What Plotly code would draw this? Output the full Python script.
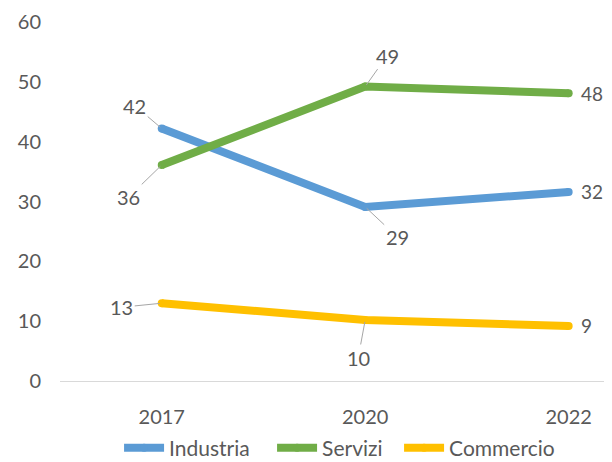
import plotly.graph_objects as go

years = ["2017", "2020", "2022"]
industria = [42.2, 29.1, 31.6]
servizi = [36.1, 49.2, 48.1]
commercio = [13.0, 10.2, 9.2]

series = [
    ("Industria", industria, "#5B9BD5"),
    ("Servizi", servizi, "#70AD47"),
    ("Commercio", commercio, "#FFC000"),
]

# legend entry widths (px) to reproduce the spacing of the original
legend_widths = {"Industria": 98, "Servizi": 72, "Commercio": 130}

# label offsets (pixels) relative to each point; None -> label right of point, no leader
offsets = {
    "Industria": [(-27, -23), (32, 30), None],
    "Servizi": [(-33, 32), (22, -31), None],
    "Commercio": [(-40, 4), (-7, 38), None],
}

FONT = "Lato"
TXT = "#595959"

fig = go.Figure()
xs = list(range(len(years)))
annotations = []
for name, vals, col in series:
    fig.add_trace(go.Scatter(
        x=xs, y=vals, name=name, mode="lines+markers",
        line=dict(color=col, width=8),
        marker=dict(color=col, size=8),
        legendwidth=legend_widths[name],
    ))
    for i, v in enumerate(vals):
        off = offsets[name][i]
        txt = str(int(round(v)))
        if off is None:
            annotations.append(dict(
                x=xs[i], y=v, xref="x", yref="y", text=txt, showarrow=False,
                xanchor="left", xshift=10, font=dict(family=FONT, size=19, color=TXT),
            ))
        else:
            annotations.append(dict(
                x=xs[i], y=v, xref="x", yref="y", text=txt, showarrow=True,
                ax=off[0], ay=off[1], arrowhead=0, arrowwidth=1, arrowcolor="#A6A6A6",
                standoff=2, font=dict(family=FONT, size=20, color=TXT),
            ))

# page body has an 8px margin, so the figure is sized to fill the rest of the window
fig.update_layout(
    width=604, height=454,
    margin=dict(l=52, r=0, t=14, b=81, autoexpand=False),
    paper_bgcolor="white", plot_bgcolor="white",
    font=dict(family=FONT, color=TXT),
    showlegend=True,
    legend=dict(
        orientation="h", x=0.107, xanchor="left", y=-0.13, yanchor="top",
        font=dict(family=FONT, size=21, color=TXT), itemwidth=40,
        tracegroupgap=0,
    ),
    annotations=annotations,
)
fig.update_xaxes(
    range=[-0.5, 2.213], tickvals=xs, ticktext=years, automargin=False,
    showgrid=False, zeroline=False, showline=True, linecolor="#D9D9D9", linewidth=1,
    ticks="", tickfont=dict(family=FONT, size=20, color=TXT), ticklabelstandoff=18,
)
fig.update_yaxes(
    range=[0, 60], dtick=10, showgrid=False, zeroline=False, showline=False, automargin=False,
    ticks="", tickfont=dict(family=FONT, size=20, color=TXT), ticklabelstandoff=18,
)

fig.write_html("out.html")
